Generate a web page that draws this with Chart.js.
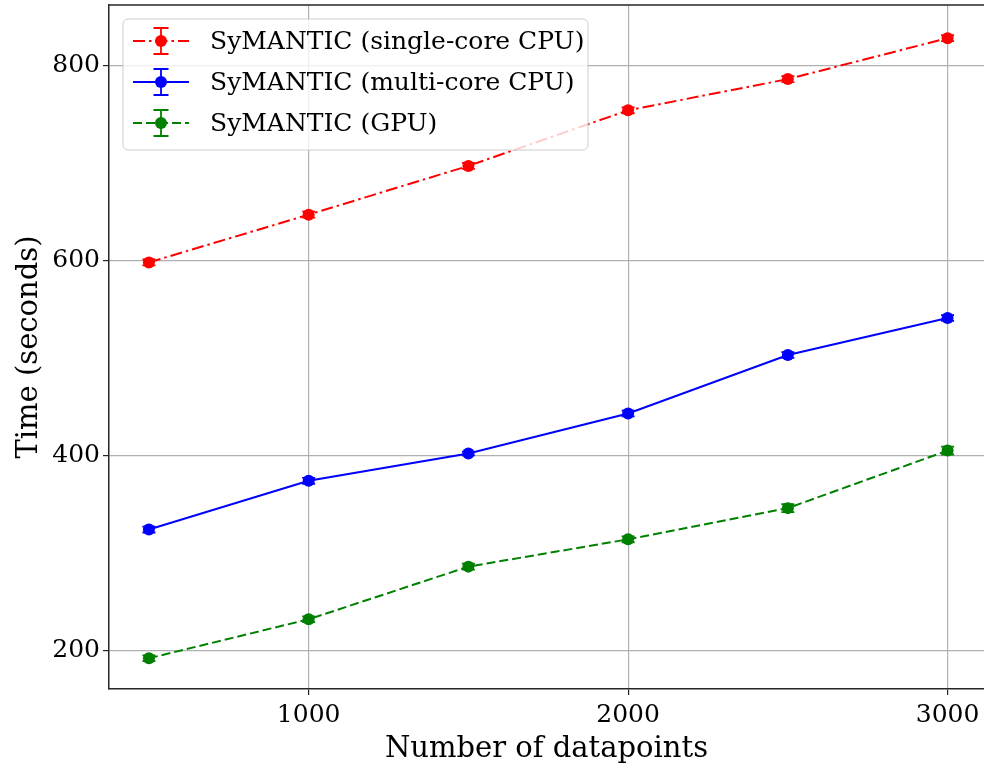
<!DOCTYPE html>
<html>
<head>
<meta charset="utf-8">
<script src="https://cdn.jsdelivr.net/npm/chart.js@4.4.1/dist/chart.umd.min.js"></script>
<style>
  html, body { margin: 0; padding: 0; background: #fff; overflow: hidden; }
  #wrap { width: 984px; height: 765px; }
</style>
</head>
<body>
<div id="wrap"><canvas id="c" width="984" height="765"></canvas></div>
<script>
// Dataset sizes tested and mean run times (seconds) with spread
const datapoints = [500, 1000, 1500, 2000, 2500, 3000];
const singleCore = [598, 647, 697, 754, 786, 828];
const singleCoreErr = [3, 3, 3, 3, 3, 3];
const multiCore = [324, 374, 402, 443, 503, 541];
const multiCoreErr = [3, 3, 2, 3, 3, 3];
const gpu = [192, 232, 286, 314, 346, 405];
const gpuErr = [3, 3, 3, 3, 4, 4];

const xTicks = [1000, 2000, 3000];
const yTicks = [200, 400, 600, 800];
const seriesNames = ['SyMANTIC (single-core CPU)', 'SyMANTIC (multi-core CPU)', 'SyMANTIC (GPU)'];

const FONT = "'DejaVu Serif', 'Liberation Serif', serif";

const seriesDefs = [
  { name: seriesNames[0], y: singleCore, err: singleCoreErr, color: '#ff0000', dash: [12, 4, 2.5, 4] },
  { name: seriesNames[1], y: multiCore, err: multiCoreErr, color: '#0000ff', dash: [] },
  { name: seriesNames[2], y: gpu, err: gpuErr, color: '#008000', dash: [9, 4] }
];

const CAP = 6.5;

// vertical error bars with caps, drawn through the chart's scales
const errorBars = {
  id: 'errorBars',
  afterDatasetsDraw(chart) {
    const ctx = chart.ctx;
    const xs = chart.scales.x, ys = chart.scales.y;
    ctx.save();
    seriesDefs.forEach(s => {
      ctx.strokeStyle = s.color;
      ctx.lineWidth = 1.8;
      ctx.setLineDash([]);
      datapoints.forEach((xv, i) => {
        const px = xs.getPixelForValue(xv);
        const top = ys.getPixelForValue(s.y[i] + s.err[i]);
        const bot = ys.getPixelForValue(s.y[i] - s.err[i]);
        ctx.beginPath();
        ctx.moveTo(px, top); ctx.lineTo(px, bot);
        ctx.moveTo(px - CAP, top); ctx.lineTo(px + CAP, top);
        ctx.moveTo(px - CAP, bot); ctx.lineTo(px + CAP, bot);
        ctx.stroke();
      });
    });
    ctx.restore();
  }
};

// top spine and the boxed legend with error-bar handles
const frameAndLegend = {
  id: 'frameAndLegend',
  afterDraw(chart) {
    const ctx = chart.ctx;
    const a = chart.chartArea;
    ctx.save();
    ctx.strokeStyle = '#262626';
    ctx.lineWidth = 1.5;
    ctx.beginPath();
    ctx.moveTo(a.left, a.top); ctx.lineTo(a.right, a.top);
    ctx.stroke();

    const bx = 123, by = 19, bw = 465, bh = 131, r = 5;
    ctx.beginPath();
    ctx.moveTo(bx + r, by);
    ctx.arcTo(bx + bw, by, bx + bw, by + bh, r);
    ctx.arcTo(bx + bw, by + bh, bx, by + bh, r);
    ctx.arcTo(bx, by + bh, bx, by, r);
    ctx.arcTo(bx, by, bx + bw, by, r);
    ctx.closePath();
    ctx.fillStyle = 'rgba(255,255,255,0.8)';
    ctx.fill();
    ctx.strokeStyle = '#cccccc';
    ctx.lineWidth = 1;
    ctx.stroke();

    const rows = [41, 82, 123];
    seriesDefs.forEach((s, i) => {
      const cy = rows[i];
      ctx.strokeStyle = s.color;
      ctx.fillStyle = s.color;
      ctx.lineWidth = 2;
      ctx.setLineDash(s.dash);
      ctx.beginPath();
      ctx.moveTo(133, cy); ctx.lineTo(189, cy);
      ctx.stroke();
      ctx.setLineDash([]);
      ctx.lineWidth = 1.8;
      ctx.beginPath();
      ctx.moveTo(161, cy - 13); ctx.lineTo(161, cy + 13);
      ctx.moveTo(161 - 7.5, cy - 13); ctx.lineTo(161 + 7.5, cy - 13);
      ctx.moveTo(161 - 7.5, cy + 13); ctx.lineTo(161 + 7.5, cy + 13);
      ctx.stroke();
      ctx.beginPath();
      ctx.arc(161, cy, 6, 0, Math.PI * 2);
      ctx.fill();
      ctx.fillStyle = '#000';
      ctx.font = '25px ' + FONT;
      ctx.textBaseline = 'middle';
      ctx.textAlign = 'left';
      ctx.fillText(s.name, 210, cy + 1);
    });
    ctx.restore();
  }
};

new Chart(document.getElementById('c'), {
  type: 'line',
  data: {
    datasets: seriesDefs.map(s => ({
      label: s.name,
      data: datapoints.map((x, i) => ({ x: x, y: s.y[i] })),
      borderColor: s.color,
      backgroundColor: s.color,
      borderWidth: 2,
      borderDash: s.dash,
      pointRadius: 6,
      pointBorderWidth: 0,
      pointBackgroundColor: s.color,
      tension: 0,
      fill: false
    }))
  },
  options: {
    responsive: false,
    animation: false,
    events: [],
    layout: { autoPadding: false, padding: { left: 0, top: 5, right: 0, bottom: 0 } },
    plugins: { legend: { display: false }, tooltip: { enabled: false } },
    scales: {
      x: {
        type: 'linear',
        min: 375,
        max: 3114,
        afterBuildTicks: s => { s.ticks = xTicks.map(v => ({ value: v })); },
        afterFit: s => { s.height = 76; s.paddingLeft = 0; s.paddingRight = 0; },
        ticks: { color: '#000', font: { family: FONT, size: 25 }, padding: 5, maxRotation: 0,
                 callback: v => String(v) },
        grid: { color: '#b0b0b0', lineWidth: 1.2, tickColor: '#262626', tickLength: 6 },
        border: { color: '#262626', width: 1.5 },
        title: { display: true, text: 'Number of datapoints', color: '#000',
                 font: { family: FONT, size: 29, lineHeight: 1.0 }, padding: { top: 0, bottom: 1.5 } }
      },
      y: {
        type: 'linear',
        min: 160.5,
        max: 862,
        afterBuildTicks: s => { s.ticks = yTicks.map(v => ({ value: v })); },
        afterFit: s => { s.width = 109; s.paddingTop = 0; s.paddingBottom = 0; },
        ticks: { color: '#000', font: { family: FONT, size: 25 }, padding: 3,
                 callback: v => String(v) },
        grid: { color: '#b0b0b0', lineWidth: 1.2, tickColor: '#262626', tickLength: 6 },
        border: { color: '#262626', width: 1.5 },
        title: { display: true, text: 'Time (seconds)', color: '#000',
                 font: { family: FONT, size: 29 }, padding: { top: 12, bottom: 0 } }
      }
    }
  },
  plugins: [errorBars, frameAndLegend]
});
</script>
</body>
</html>
